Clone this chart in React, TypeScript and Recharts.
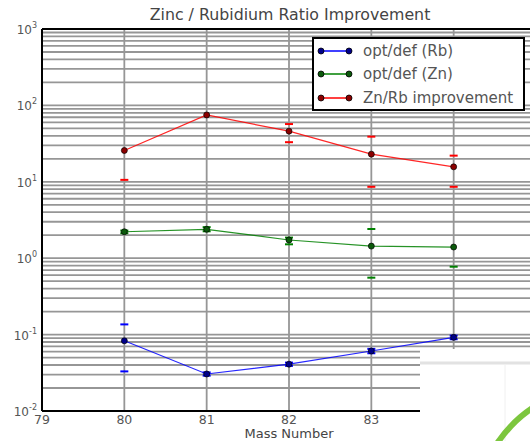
import { ComposedChart, Line, Scatter, XAxis, YAxis, CartesianGrid, Legend, ReferenceLine } from 'recharts';

const mass = [80, 81, 82, 83, 84];
const rbRatio = [0.083, 0.0305, 0.041, 0.061, 0.092];
const znRatio = [2.22, 2.39, 1.73, 1.44, 1.4];
const znRbImprovement = [25.7, 75, 46, 23, 15.7];

// error bar caps (lower / upper), null where no cap is visible
const rbLow = [0.033, 0.029, 0.039, 0.057, 0.087];
const rbHigh = [0.136, 0.032, 0.043, 0.065, 0.097];
const znLow = [2.12, 2.25, 1.52, 0.556, 0.774];
const znHigh = [2.3, 2.55, 1.86, 2.41, null];
const ratioLow = [10.6, null, 33, 8.6, 8.6];
const ratioHigh = [null, null, 57, 39, 22];

const xTicks = [79, 80, 81, 82, 83, 84];
const yTicks = [0.01, 0.1, 1, 10, 100, 1000];
const yExponents = ['-2', '-1', '0', '1', '2', '3'];
const minorSteps = [2, 3, 4, 5, 6, 7, 8, 9];

const seriesNames = ['opt/def (Rb)', 'opt/def (Zn)', 'Zn/Rb improvement'];
const lineColors = ['#0000ff', '#008000', '#ff0000'];
const markerColors = ['#00008b', '#0b5a0b', '#8b0000'];

const FONT = '"DejaVu Sans", sans-serif';

const toPoints = (vals: number[]) => mass.map((m, i) => ({ x: m, y: vals[i] }));
const toCaps = (low: (number | null)[], high: (number | null)[]) =>
  mass.flatMap((m, i) => [low[i], high[i]].filter(v => v !== null).map(v => ({ x: m, y: v as number })));

// major + minor log gridlines (10^k and 2..9 x 10^k)
const gridValues = yTicks.slice(1, -1).concat(yTicks.slice(0, -1).flatMap(t => minorSteps.map(s => s * t)));

const YTick = ({ x, y, payload }: any) => {
  const idx = yTicks.indexOf(payload.value);
  return (
    <text x={x} y={y} dy={5} textAnchor="end" fontSize={12} fill="#555" fontFamily={FONT}>
      10<tspan dy={-6} fontSize={8}>{yExponents[idx]}</tspan>
    </text>
  );
};

const capShape = (color: string) => (p: any) => (
  <line x1={p.cx - 4} x2={p.cx + 4} y1={p.cy} y2={p.cy} stroke={color} strokeWidth={2} />
);

const renderLegend = () => (
  <div style={{ width: 213, height: 74, boxSizing: 'border-box', border: '2px solid #000', background: '#fff' }}>
    {seriesNames.map((n, i) => (
      <div key={n} style={{ display: 'flex', alignItems: 'center', height: 23.5 }}>
        <svg width={49} height={20}>
          <line x1={7} x2={35} y1={10} y2={10} stroke={lineColors[i]} strokeWidth={1.5} />
          <circle cx={7} cy={10} r={3} fill={markerColors[i]} stroke="#000" strokeWidth={0.8} />
          <circle cx={35} cy={10} r={3} fill={markerColors[i]} stroke="#000" strokeWidth={0.8} />
        </svg>
        <span style={{ fontFamily: FONT, fontSize: 15, color: '#555', whiteSpace: 'nowrap' }}>{n}</span>
      </div>
    ))}
  </div>
);

export default function App() {
  const lines = [rbRatio, znRatio, znRbImprovement];
  const caps = [[rbLow, rbHigh], [znLow, znHigh], [ratioLow, ratioHigh]] as const;
  return (
    <div style={{ position: 'fixed', left: 0, top: 0, width: 530, height: 441, overflow: 'hidden', background: '#fff' }}>
      <div style={{ position: 'absolute', left: 0, width: 580, top: 5, textAlign: 'center', fontFamily: FONT, fontSize: 15.8, color: '#444' }}>
        Zinc / Rubidium Ratio Improvement
      </div>
      <ComposedChart width={560} height={441} margin={{ top: 29, right: 24, left: 0, bottom: 0 }}>
        <CartesianGrid stroke="#969696" strokeWidth={1.8} horizontal={false} />
        {gridValues.map(v => (
          <ReferenceLine key={'g' + v} y={v} stroke="#969696" strokeWidth={1.8} />
        ))}
        <XAxis
          dataKey="x"
          type="number"
          domain={[79, 85]}
          ticks={xTicks}
          height={30}
          tickLine={false}
          tickSize={4}
          tickMargin={0}
          axisLine={{ stroke: '#000', strokeWidth: 2 }}
          tick={{ fontSize: 12.5, fill: '#555', fontFamily: FONT }}
          label={{ value: 'Mass Number', position: 'insideBottom', offset: 3, style: { fontSize: 13, fill: '#444', fontFamily: FONT } }}
        />
        <YAxis
          type="number"
          scale="log"
          domain={[0.01, 1000]}
          allowDataOverflow
          ticks={yTicks}
          width={42}
          tickLine={false}
          tickSize={5}
          tickMargin={0}
          axisLine={{ stroke: '#000', strokeWidth: 2 }}
          tick={<YTick />}
        />
        <ReferenceLine y={1000} stroke="#000" strokeWidth={2} />
        <Legend layout="vertical" align="center" verticalAlign="middle" content={renderLegend} wrapperStyle={{ left: 312, top: 37, width: 213 }} />
        {lines.map((vals, i) => (
          <Line
            key={seriesNames[i]}
            data={toPoints(vals)}
            dataKey="y"
            name={seriesNames[i]}
            stroke={lineColors[i]}
            strokeWidth={1.2}
            strokeOpacity={0.85}
            dot={{ r: 3, fill: markerColors[i], stroke: '#000', strokeWidth: 0.8 }}
            isAnimationActive={false}
          />
        ))}
        {caps.map(([lo, hi], i) => (
          <Scatter
            key={'caps' + i}
            data={toCaps(lo as any, hi as any)}
            dataKey="y"
            legendType="none"
            shape={capShape(lineColors[i])}
            isAnimationActive={false}
          />
        ))}
      </ComposedChart>
      <div style={{ position: 'absolute', left: 420, top: 349, width: 110, height: 92, background: '#fff' }}>
        <svg width={110} height={92}>
          <line x1={0} x2={110} y1={14} y2={14} stroke="#e2e2e2" strokeWidth={3} />
          <line x1={85} x2={85} y1={15} y2={92} stroke="#f0f0f0" strokeWidth={1} />
          <path d="M 76 96 Q 92 72 114 58" stroke="#7cc63e" strokeWidth={6} fill="none" />
        </svg>
      </div>
    </div>
  );
}
